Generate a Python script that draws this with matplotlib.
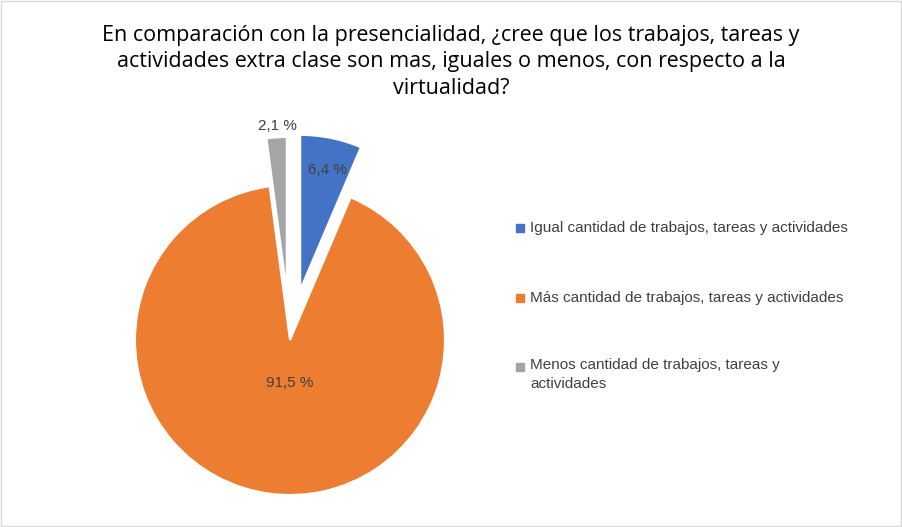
import matplotlib
matplotlib.use("Agg")
import matplotlib.pyplot as plt
from matplotlib.patches import Rectangle

categories = ["Igual cantidad de trabajos, tareas y actividades",
              "Más cantidad de trabajos, tareas y actividades",
              "Menos cantidad de trabajos, tareas y\nactividades"]
values = [6.4, 91.5, 2.1]
labels = ["6,4 %", "91,5 %", "2,1 %"]
colors = ["#4472C4", "#ED7D31", "#A5A5A5"]
explode = [0.33, 0, 0.31]
title = ("En comparación con la presencialidad, ¿cree que los trabajos, tareas y\n"
         "actividades extra clase son mas, iguales o menos, con respecto a la\n"
         "virtualidad?")

W, H = 902, 527
fig = plt.figure(figsize=(W/100, H/100), dpi=100)
ax = fig.add_axes([0, 0, 1, 1])
cx, cy, r = 290, H - 340, 155
ax.pie(values, explode=[e * r for e in explode], colors=colors, startangle=90,
       counterclock=False, center=(cx, cy), radius=r,
       wedgeprops=dict(edgecolor="white", linewidth=1.5), frame=True)
ax.set_xlim(0, W); ax.set_ylim(0, H); ax.axis("off")
ax.set_aspect("equal")
for pos, t in zip([(327, H-170), (290, H-383), (277, H-126)], labels):
    ax.text(pos[0], pos[1], t, ha="center", va="center", fontsize=11,
            color="#404040", family="Liberation Sans")
ax.text(451, H-62, title, ha="center", va="center", fontsize=15.5,
        color="#000000", family="Open Sans", linespacing=1.35)
for (y, txt), c in zip([(228, categories[0]), (298, categories[1]), (367, categories[2])], colors):
    ax.add_patch(Rectangle((516, H-y-4), 8, 8, color=c))
    multi = "\n" in txt
    ax.text(530, H-y+9 if multi else H-y, txt, ha="left",
            va="top" if multi else "center",
            fontsize=11, color="#404040", family="Liberation Sans", linespacing=1.5)
ax.add_patch(Rectangle((1, 1), W-2, H-2, fill=False, edgecolor="#D9D9D9", linewidth=1))
fig.savefig("out.png", dpi=100)
